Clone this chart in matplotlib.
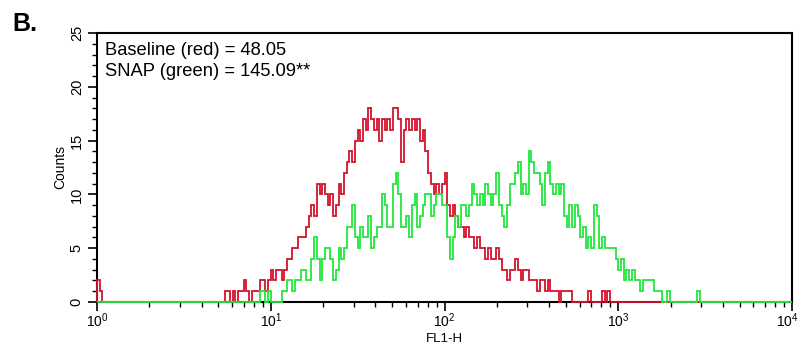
import numpy as np
import matplotlib
matplotlib.use("Agg")
import matplotlib.pyplot as plt
import matplotlib.transforms as mtransforms
from matplotlib.ticker import LogLocator, MultipleLocator, NullFormatter, FixedLocator

plt.rcParams["font.family"] = ["Liberation Sans", "DejaVu Sans"]
plt.rcParams["mathtext.default"] = "regular"

# FL1-H histogram: 256 log channels spanning four decades (10^0 .. 10^4)
n_channels = 256
decades = 4

# Baseline (red) counts per channel
red_counts = (
    [2, 1] + [0] * 45 +
    [1, 1, 0, 1, 0, 1, 1, 2, 1, 0, 1, 1, 1, 2, 2, 1, 2, 3, 2, 3,
     3, 2, 3, 4, 4, 5, 5, 6, 6, 6, 7, 8, 9, 8, 11, 10, 11, 10, 9, 10,
     8, 9, 11, 10, 12, 13, 14, 13, 15, 16, 15, 17, 16, 18, 17, 16, 17, 15, 17, 16,
     17, 16, 18, 18, 17, 13, 16, 17, 16, 17, 16, 17, 15, 16, 14, 12, 11, 10, 11, 10,
     11, 12, 9, 8, 9, 8, 7, 7, 6, 7, 6, 6, 5, 6, 5, 5, 4, 5, 4, 4,
     5, 4, 3, 3, 2, 3, 3, 4, 3, 2, 3, 3, 2, 2, 2, 1, 2, 2, 1, 2,
     1, 1, 1, 0, 1, 1, 1, 1, 0, 0, 0, 0, 0, 0, 1, 0, 0, 0, 0, 1,
     0, 1] +
    [0] * 67
)

# SNAP (green) counts per channel
green_counts = (
    [0] * 60 +
    [1, 1, 0, 1, 0, 0, 0, 0, 1, 1, 2, 2, 1, 2, 2, 3, 3, 2, 2, 4,
     6, 4, 2, 4, 5, 5, 4, 2, 3, 5, 4, 5, 7, 7, 9, 6, 5, 7, 6, 6,
     8, 5, 6, 7, 7, 10, 9, 7, 7, 11, 12, 10, 7, 7, 8, 6, 9, 10, 7, 8,
     9, 10, 10, 8, 9, 10, 10, 9, 9, 6, 4, 6, 8, 7, 9, 9, 8, 9, 11, 10,
     9, 10, 9, 11, 10, 9, 10, 12, 9, 8, 7, 9, 11, 11, 12, 13, 10, 11, 10, 14,
     13, 12, 12, 11, 9, 12, 13, 11, 10, 11, 10, 11, 8, 7, 9, 7, 9, 8, 6, 7,
     5, 6, 5, 9, 8, 5, 6, 5, 5, 5, 5, 4, 3, 4, 2, 3, 2, 3, 2, 2,
     1, 2, 2, 2, 2, 1, 1, 1, 0, 0, 1, 0, 0, 0, 0, 0, 0, 0, 0, 0,
     0, 1] +
    [0] * 34
)

decade_exponents = [0, 1, 2, 3, 4]
legend_lines = ["Baseline (red) = 48.05", "SNAP (green) = 145.09**"]
panel_label = "B."
x_label = "FL1-H"
y_label = "Counts"
y_max = 25

red_color = "#d3122c"
green_color = "#22e63c"

edges = 10.0 ** (np.arange(n_channels + 1) * decades / n_channels)

fig = plt.figure(figsize=(8.01, 3.47), dpi=100)
ax = fig.add_axes([97 / 801, 1 - 302 / 347, (792 - 97) / 801, (302 - 33) / 347])

ax.stairs(red_counts, edges, color=red_color, linewidth=1.3, zorder=3, clip_on=False)
ax.stairs(green_counts, edges, color=green_color, linewidth=1.3, zorder=4, clip_on=False)

ax.set_xscale("log")
ax.set_xlim(edges[0], edges[-1])
ax.set_ylim(0, y_max)

decade_values = [10.0 ** e for e in decade_exponents]
ax.xaxis.set_major_locator(FixedLocator(decade_values))
ax.xaxis.set_major_formatter(NullFormatter())
ax.xaxis.set_minor_locator(LogLocator(base=10, subs=np.arange(2, 10), numticks=20))
ax.xaxis.set_minor_formatter(NullFormatter())
ax.yaxis.set_major_locator(MultipleLocator(5))
ax.yaxis.set_minor_locator(MultipleLocator(1))

ax.tick_params(axis="both", which="major", direction="out", length=6.5, width=1.2,
               color="black", labelsize=10.5)
ax.tick_params(axis="both", which="minor", direction="out", length=3.5, width=1.0,
               color="black")
ax.tick_params(axis="y", which="major", pad=3)
for lbl in ax.get_yticklabels():
    lbl.set_rotation(90)
    lbl.set_va("center")

# decade labels under the x axis; the last one is nudged left to stay on the canvas
xlab_trans = mtransforms.blended_transform_factory(ax.transData, ax.transAxes)
for i, (e, v) in enumerate(zip(decade_exponents, decade_values)):
    dx = -5 / 100 if i == len(decade_values) - 1 else 0
    t = xlab_trans + mtransforms.ScaledTranslation(dx, -9 / 100, fig.dpi_scale_trans)
    ax.text(v, 0, rf"$10^{{{e}}}$", transform=t, ha="center", va="top",
            fontsize=10)

for sp in ax.spines.values():
    sp.set_linewidth(1.5)
    sp.set_color("black")

ax.set_xlabel(x_label, fontsize=9.5, labelpad=12)
ax.set_ylabel(y_label, fontsize=10, labelpad=2)

ax.text(0.012, 0.965, "\n".join(legend_lines), transform=ax.transAxes,
        fontsize=13.2, va="top", ha="left", linespacing=1.3)

fig.text(12 / 801, 1 - 12 / 347, panel_label, fontsize=18, fontweight="bold",
         va="top", ha="left")

fig.savefig("out.png", dpi=100)
